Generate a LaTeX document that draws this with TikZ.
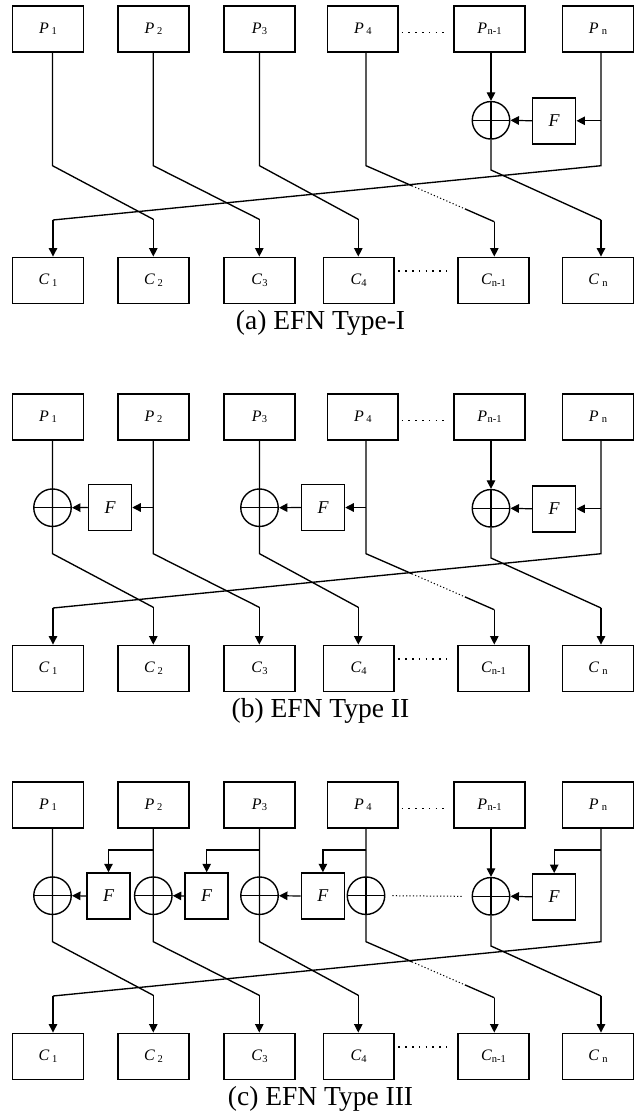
\documentclass[tikz,border=0pt]{standalone}
\usepackage{fontspec}
\setmainfont{Liberation Serif}
\usetikzlibrary{arrows.meta}
\newcommand{\lbl}[3]{\fontsize{16}{16}\selectfont\textit{#1}\hspace*{#3}\raisebox{-1.5pt}{\fontsize{10.5}{10.5}\selectfont #2}}
\tikzset{
 blk/.style={draw, line width=1.5pt, minimum width=70.6pt, minimum height=46pt, inner sep=0pt},
 fblk/.style={draw, line width=1.5pt, minimum width=43pt, minimum height=46pt, inner sep=0pt, font=\fontsize{18}{18}\selectfont\itshape},
 xor/.style={draw, circle, line width=1.4pt, minimum size=37.5pt, inner sep=0pt,
   path picture={\draw[line width=1.3pt] (path picture bounding box.north) -- (path picture bounding box.south)
     (path picture bounding box.west) -- (path picture bounding box.east);}},
 wire/.style={line width=1.35pt},
 arr/.style={line width=1.2pt, -{Triangle[length=8.5pt,width=8.5pt]}},
 dots/.style={line width=1.5pt, dash pattern=on 1.6pt off 5.2pt},
 fdots/.style={line width=1pt, dash pattern=on 1.2pt off 2.2pt},
 captxt/.style={font=\fontsize{27.5}{30}\selectfont, anchor=base}
}
\newcommand{\efnpanel}[3]{%
\begin{scope}[yshift=-#2pt]
\node[blk] (#1P1) at (48,29) {\lbl{P}{1}{2.5pt}};
\node[blk] (#1P2) at (153.5,29) {\lbl{P}{2}{2.5pt}};
\node[blk] (#1P3) at (259.5,29) {\lbl{P}{3}{0pt}};
\node[blk] (#1P4) at (362.8,29) {\lbl{P}{4}{2.5pt}};
\node[blk] (#1P5) at (489.5,29) {\lbl{P}{n-1}{0.3pt}};
\node[blk] (#1P6) at (598,29) {\lbl{P}{n}{3pt}};
\node[blk] (#1C1) at (48,280.3) {\lbl{C}{1}{2.5pt}};
\node[blk] (#1C2) at (153.5,280.3) {\lbl{C}{2}{2.5pt}};
\node[blk] (#1C3) at (259.5,280.3) {\lbl{C}{3}{0pt}};
\node[blk] (#1C4) at (358.7,280.3) {\lbl{C}{4}{0pt}};
\node[blk] (#1C5) at (493.5,280.3) {\lbl{C}{n-1}{0pt}};
\node[blk] (#1C6) at (598,280.3) {\lbl{C}{n}{3pt}};
\node[xor] (#1X5) at (491,120.3) {};
\node[fblk] (#1F6) at (554.2,120.8) {F};
\coordinate (#1k1) at (52.5,165.7);
\coordinate (#1k2) at (153.3,165.7);
\coordinate (#1k3) at (259.5,165.7);
\coordinate (#1k4) at (366,165.7);
\coordinate (#1k5) at (491,170);
\coordinate (#1k6) at (601,165.7);
\coordinate (#1m1) at (53,220);
\coordinate (#1m2) at (153.3,219.3);
\coordinate (#1m3) at (259.3,219.3);
\coordinate (#1m4) at (358.3,219.3);
\coordinate (#1m5) at (494.3,221.7);
\coordinate (#1m6) at (601,220);
\coordinate (#1q1) at (412,185.8);
\coordinate (#1q2) at (465,208.9);
\node[captxt] (#1lab) at (320.5,329) {#3};
\end{scope}
\draw[dots] ([xshift=2.7pt,yshift=-3.5pt]#1P4.east) -- ([xshift=-5pt,yshift=-3.5pt]#1P5.west);
\draw[dots] ([xshift=3.7pt,yshift=9.3pt]#1C4.east) -- ([xshift=-10pt,yshift=9.3pt]#1C5.west);
\draw[wire] (#1P1.south -| #1k1) -- (#1k1) -- (#1m2);
\draw[arr] (#1m2) -- (#1m2 |- #1C2.north);
\draw[wire] (#1P2.south -| #1k2) -- (#1k2) -- (#1m3);
\draw[arr] (#1m3) -- (#1m3 |- #1C3.north);
\draw[wire] (#1P3.south -| #1k3) -- (#1k3) -- (#1m4);
\draw[arr] (#1m4) -- (#1m4 |- #1C4.north);
\draw[wire] (#1P4.south -| #1k4) -- (#1k4) -- (#1q1);
\draw[fdots] (#1q1) -- (#1q2);
\draw[wire] (#1q2) -- (#1m5);
\draw[arr] (#1m5) -- (#1m5 |- #1C5.north);
\draw[arr] (#1P5.south -| #1k5) -- (#1X5.north);
\draw[wire] (#1X5.south) -- (#1k5) -- (#1m6);
\draw[arr] (#1m6) -- (#1m6 |- #1C6.north);
\draw[wire] (#1P6.south -| #1k6) -- (#1k6) -- (#1m1);
\draw[arr] (#1m1) -- (#1m1 |- #1C1.north);
\draw[arr] (#1F6.west) -- (#1X5.east);
}
\begin{document}
\begin{tikzpicture}[x=1pt,y=-1pt]
\useasboundingbox (0,0) rectangle (641,1120);
% ---------- (a) ----------
\efnpanel{a}{0}{(a) EFN Type-I}
\draw[arr] (ak6 |- aF6.east) -- (aF6.east);
% ---------- (b) ----------
\efnpanel{b}{388}{(b) EFN Type II}
\begin{scope}[yshift=-388pt]
\node[xor] (bX1) at (52.5,119.7) {};
\node[fblk] (bF2) at (110,119.5) {F};
\node[xor] (bX3) at (259.5,119.7) {};
\node[fblk] (bF4) at (323,119.5) {F};
\end{scope}
\draw[arr] (bk2 |- bF2.east) -- (bF2.east);
\draw[arr] (bF2.west) -- (bX1.east);
\draw[arr] (bk4 |- bF4.east) -- (bF4.east);
\draw[arr] (bF4.west) -- (bX3.east);
\draw[arr] (bk6 |- bF6.east) -- (bF6.east);
% ---------- (c) ----------
\efnpanel{c}{776}{(c) EFN Type III}
\begin{scope}[yshift=-776pt]
\node[xor] (cX1) at (52.5,119.7) {};
\node[fblk] (cF2) at (108.5,120) {F};
\node[xor] (cX2) at (153.3,119.7) {};
\node[fblk] (cF3) at (206.7,120) {F};
\node[xor] (cX3) at (259.5,119.7) {};
\node[fblk] (cF4) at (322.9,120) {F};
\node[xor] (cX4) at (366,119.7) {};
\coordinate (cs2) at (153.3,74);
\coordinate (cs3) at (259.5,74);
\coordinate (cs4) at (366,74);
\coordinate (cs6) at (601,74);
\end{scope}
\draw[arr] (cs2) -| (cF2.north);
\draw[arr] (cs3) -| (cF3.north);
\draw[arr] (cs4) -| (cF4.north);
\draw[arr] (cs6) -| (cF6.north);
\draw[arr] (cF2.west) -- (cX1.east);
\draw[arr] (cF3.west) -- (cX2.east);
\draw[arr] (cF4.west) -- (cX3.east);
\draw[fdots] ([xshift=7pt]cX4.east) -- ([xshift=-10pt]cX5.west);
\end{tikzpicture}
\end{document}
